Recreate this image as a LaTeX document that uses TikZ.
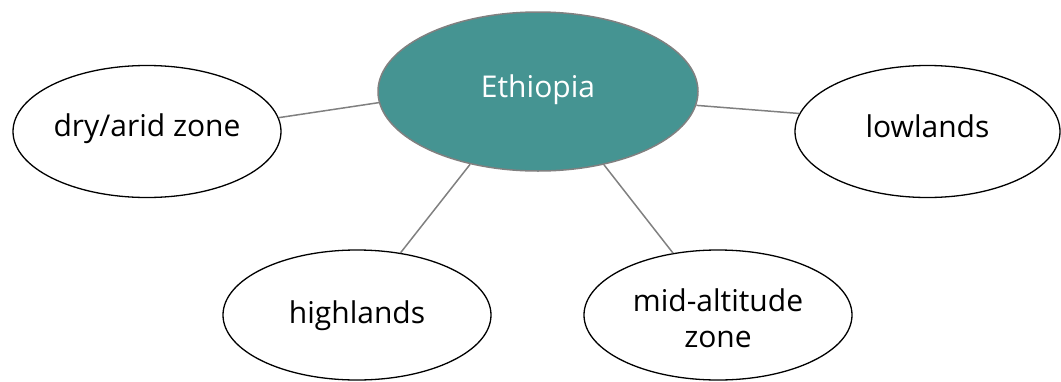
\documentclass[tikz,border=0pt]{standalone}
\usepackage{fontspec}
\setmainfont{Open Sans}
\usetikzlibrary{shapes.geometric}
\definecolor{teal1}{RGB}{69,148,146}
\definecolor{edgegray}{RGB}{128,128,128}
\tikzset{
  zone/.style={ellipse, draw=black, line width=1.3pt, fill=white, inner sep=0pt,
    minimum width=268pt, minimum height=132pt, font=\fontsize{30}{35.6}\selectfont, align=center},
  hub/.style={ellipse, draw=edgegray, line width=1.5pt, fill=teal1, inner sep=0pt,
    minimum width=320pt, minimum height=159pt, text=white, font=\fontsize{30}{35.6}\selectfont},
  link/.style={draw=edgegray, line width=1.5pt}
}
\begin{document}
\begin{tikzpicture}[x=1pt,y=-1pt]
\useasboundingbox (0,0) rectangle (1061,381);
\node[hub, text height=20pt, text depth=9pt] (eth) at (538,91.5) {Ethiopia};
\node[zone, text height=20pt, text depth=11pt] (dry) at (147,131.5) {dry/arid zone};
\node[zone, minimum width=265pt, text height=20pt, text depth=8pt] (low) at (927.5,131.5) {lowlands};
\node[zone, minimum height=130pt, text height=22pt, text depth=6pt] (high) at (357,315) {highlands};
\node[zone, minimum height=130pt, text height=64.6pt, text depth=0pt] (mid) at (718,315) {mid-altitude\\zone};
\draw[link] (eth.184) -- (dry.6);
\draw[link] (eth.355.5) -- (low.172.7);
\draw[link] (eth.227.6) -- (high.55.7);
\draw[link] (eth.312.4) -- (mid.126);
\end{tikzpicture}
\end{document}
